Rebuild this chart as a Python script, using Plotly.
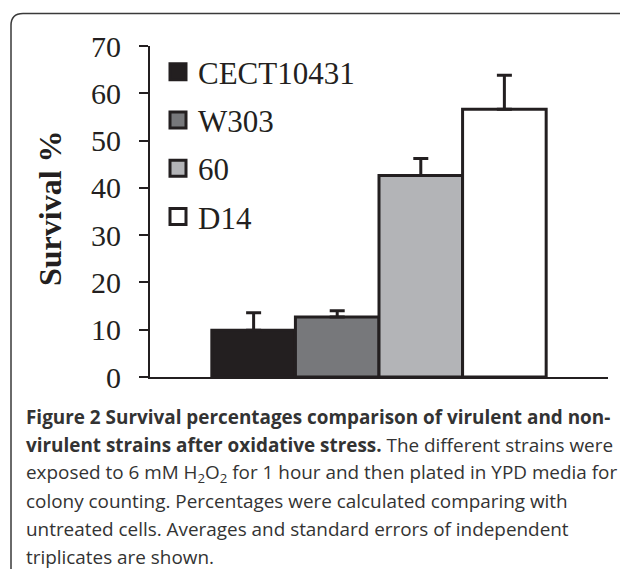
import plotly.graph_objects as go

# ---- data ----
strains = ["CECT10431", "W303", "60", "D14"]
survival = [9.9, 12.7, 42.6, 56.6]
std_err = [3.7, 1.3, 3.6, 7.2]
bar_colors = ["#231f20", "#77787b", "#b3b4b7", "#ffffff"]
y_ticks = [0, 10, 20, 30, 40, 50, 60, 70]

caption_lines = [
    "<b>Figure 2 Survival percentages comparison of virulent and non-</b>",
    "<b>virulent strains after oxidative stress.</b> The different strains were",
    "exposed to 6 mM H<sub>2</sub>O<sub>2</sub> for 1 hour and then plated in YPD media for",
    "colony counting. Percentages were calculated comparing with",
    "untreated cells. Averages and standard errors of independent",
    "triplicates are shown.",
]

# ---- layout geometry (page pixels; page body has an 8px margin) ----
OFF = 8
W, H = 628 - OFF, 569 - OFF
L, R, T, B = 150, 608, 46, 377
INK = "#231f20"


def px_x(px):
    return (px - L) / (R - L)


def px_y(py):
    return (B - py) / (B - T)


fig = go.Figure()

for name, val, err, col in zip(strains, survival, std_err, bar_colors):
    fig.add_trace(go.Bar(
        x=["group"], y=[val], name=name, showlegend=False,
        marker=dict(color=col, line=dict(color=INK, width=3)),
        error_y=dict(type="data", symmetric=False, array=[err], arrayminus=[0],
                     color=INK, thickness=3, width=7.5),
    ))

# legend entries (square markers)
for i, (name, col) in enumerate(zip(strains, bar_colors)):
    fig.add_trace(go.Scatter(
        x=[None], y=[None], mode="markers", name=name, legendgroup=f"g{i}",
        marker=dict(symbol="square", size=16, color=col, line=dict(color=INK, width=3)),
    ))

# frame with rounded corner
r = 12
x0, y0, x1, y1 = 11, 13.5, 660, 620
path = (f"M {px_x(x0)},{px_y(y1)} L {px_x(x0)},{px_y(y0 + r)} "
        f"Q {px_x(x0)},{px_y(y0)} {px_x(x0 + r)},{px_y(y0)} "
        f"L {px_x(x1)},{px_y(y0)}")
fig.add_shape(type="path", path=path, xref="paper", yref="paper",
              line=dict(color="#3a3a3a", width=1.5), layer="above")

# y-axis title
fig.add_annotation(text="<b>Survival %</b>", textangle=-90, xref="paper", yref="paper",
                   x=px_x(50), y=px_y(208), xanchor="center", yanchor="middle",
                   showarrow=False, font=dict(family="Liberation Serif", size=32, color=INK))

# caption
centers = [417, 445, 473, 501, 529, 557]
for line, cy in zip(caption_lines, centers):
    fig.add_annotation(text=line, xref="paper", yref="paper",
                       x=px_x(24), y=px_y(cy), xanchor="left", yanchor="middle",
                       showarrow=False, align="left",
                       font=dict(family="Open Sans", size=18.9, color="#333333"))

fig.update_layout(
    width=W, height=H,
    margin=dict(l=L - OFF, r=628 - R, t=T - OFF, b=569 - B, pad=0),
    paper_bgcolor="white", plot_bgcolor="white",
    barmode="group", bargap=0.27, bargroupgap=0,
    showlegend=True,
    legend=dict(x=px_x(158), y=px_y(45), xanchor="left", yanchor="top",
                bgcolor="rgba(0,0,0,0)", tracegroupgap=5,
                font=dict(family="Liberation Serif", size=31, color=INK)),
    xaxis=dict(showticklabels=False, ticks="", showline=True, linecolor=INK,
               linewidth=1.5, showgrid=False, zeroline=False, fixedrange=True),
    yaxis=dict(range=[0, 70], tickvals=y_ticks, ticks="outside", ticklen=9,
               tickwidth=1.5, tickcolor=INK, showline=True, linecolor=INK, linewidth=2,
               showgrid=False, zeroline=False, ticklabelstandoff=12,
               tickfont=dict(family="Liberation Serif", size=30, color=INK)),
)

fig.write_html("out.html")
